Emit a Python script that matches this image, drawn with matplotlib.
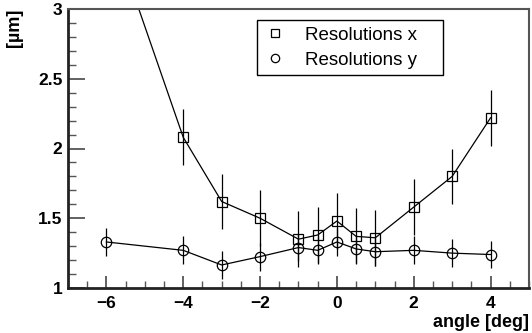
import numpy as np
import matplotlib.pyplot as plt
from matplotlib.lines import Line2D
from matplotlib.ticker import MultipleLocator

plt.rcParams['font.family'] = ['Liberation Sans', 'DejaVu Sans']

# resolution data
angle_x = [-6, -4, -3, -2, -1, -0.5, 0, 0.5, 1, 2, 3, 4]
res_x = [3.67, 2.08, 1.62, 1.50, 1.35, 1.38, 1.48, 1.37, 1.36, 1.58, 1.80, 2.22]
err_x = [0.2, 0.2, 0.2, 0.2, 0.2, 0.2, 0.2, 0.2, 0.2, 0.2, 0.2, 0.2]

angle_y = [-6, -4, -3, -2, -1, -0.5, 0, 0.5, 1, 2, 3, 4]
res_y = [1.33, 1.27, 1.165, 1.225, 1.29, 1.27, 1.33, 1.28, 1.26, 1.27, 1.25, 1.24]
err_y = [0.1, 0.1, 0.1, 0.1, 0.1, 0.1, 0.1, 0.1, 0.1, 0.1, 0.1, 0.1]

fig = plt.figure(figsize=(5.32, 3.33), dpi=100)
ax = fig.add_axes([68/532, 45/333, 461/532, 279/333])

ax.errorbar(angle_x, res_x, yerr=err_x, color='black', lw=0.9, elinewidth=0.9,
            capsize=0, marker='s', ms=7, mfc='none', mec='black', mew=0.9)
ax.errorbar(angle_y, res_y, yerr=err_y, color='black', lw=0.9, elinewidth=0.9,
            capsize=0, marker='o', ms=7.5, mfc='none', mec='black', mew=0.9)

ax.set_xlim(-7, 5)
ax.set_ylim(1, 3)
ax.xaxis.set_major_locator(MultipleLocator(2))
ax.xaxis.set_minor_locator(MultipleLocator(0.5))
ax.yaxis.set_major_locator(MultipleLocator(0.5))
ax.yaxis.set_minor_locator(MultipleLocator(0.1))
ax.set_yticks([1, 1.5, 2, 2.5, 3], ['1', '1.5', '2', '2.5', '3'])

ax.tick_params(which='both', direction='in', top=False, right=False, color='#555555')
ax.tick_params(axis='y', which='major', length=12, width=1.3, pad=4)
ax.tick_params(axis='y', which='minor', length=6, width=1.0)
ax.tick_params(axis='x', which='major', length=9, width=1.3, pad=6)
ax.tick_params(axis='x', which='minor', length=5, width=1.0)
for lab in ax.get_xticklabels() + ax.get_yticklabels():
    lab.set_fontsize(12.5)
    lab.set_fontweight('bold')

for s in ['left', 'bottom']:
    ax.spines[s].set_linewidth(2)
    ax.spines[s].set_color('#222222')
for s in ['top', 'right']:
    ax.spines[s].set_linewidth(1.5)
    ax.spines[s].set_color('#555555')

ax.set_xlabel('angle [deg]', fontsize=13, fontweight='bold', loc='right', labelpad=2)
fig.text(14/532, 1 - 28/333, '[µm]', rotation=90, fontsize=13, fontweight='bold',
         ha='center', va='center')

handles = [Line2D([], [], ls='none', marker='s', ms=6, mfc='none', mec='black', mew=0.9),
           Line2D([], [], ls='none', marker='o', ms=6, mfc='none', mec='black', mew=0.9)]
leg = ax.legend(handles, ['Resolutions x', 'Resolutions y'], loc='upper left',
                bbox_to_anchor=(0.41, 0.76, 0.403, 0.2006), mode='expand',
                borderaxespad=0, fancybox=False,
                framealpha=1, edgecolor='black', fontsize=13.5, handlelength=1.2,
                handletextpad=1.0, borderpad=0.35, labelspacing=0.42)
leg.get_frame().set_linewidth(1.0)

plt.savefig('out.png', dpi=100)
